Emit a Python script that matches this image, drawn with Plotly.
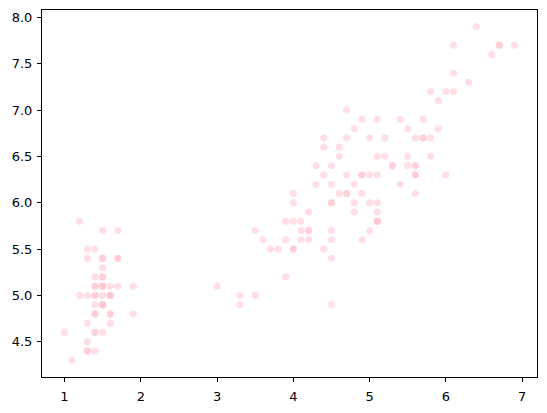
import plotly.graph_objects as go

petal_length = [1.4,1.4,1.3,1.5,1.4,1.7,1.4,1.5,1.4,1.5,1.5,1.6,1.4,1.1,1.2,1.5,1.3,1.4,1.7,1.5,
                1.7,1.5,1.0,1.7,1.9,1.6,1.6,1.5,1.4,1.6,1.6,1.5,1.5,1.4,1.5,1.2,1.3,1.5,1.3,1.5,
                1.3,1.3,1.3,1.6,1.9,1.4,1.6,1.4,1.5,1.4,
                4.7,4.5,4.9,4.0,4.6,4.5,4.7,3.3,4.6,3.9,3.5,4.2,4.0,4.7,3.6,4.4,4.5,4.1,4.5,3.9,
                4.8,4.0,4.9,4.7,4.3,4.4,4.8,5.0,4.5,3.5,3.8,3.7,3.9,5.1,4.5,4.5,4.7,4.4,4.1,4.0,
                4.4,4.6,4.0,3.3,4.2,4.2,4.2,4.3,3.0,4.1,
                6.0,5.1,5.9,5.6,5.8,6.6,4.5,6.3,5.8,6.1,5.1,5.3,5.5,5.0,5.1,5.3,5.5,6.7,6.9,5.0,
                5.7,4.9,6.7,4.9,5.7,6.0,4.8,4.9,5.6,5.8,6.1,6.4,5.6,5.1,5.6,6.1,5.6,5.5,4.8,5.4,
                5.6,5.1,5.1,5.9,5.7,5.2,5.0,5.2,5.4,5.1]
sepal_length = [5.1,4.9,4.7,4.6,5.0,5.4,4.6,5.0,4.4,4.9,5.4,4.8,4.8,4.3,5.8,5.7,5.4,5.1,5.7,5.1,
                5.4,5.1,4.6,5.1,4.8,5.0,5.0,5.2,5.2,4.7,4.8,5.4,5.2,5.5,4.9,5.0,5.5,4.9,4.4,5.1,
                5.0,4.5,4.4,5.0,5.1,4.8,5.1,4.6,5.3,5.0,
                7.0,6.4,6.9,5.5,6.5,5.7,6.3,4.9,6.6,5.2,5.0,5.9,6.0,6.1,5.6,6.7,5.6,5.8,6.2,5.6,
                5.9,6.1,6.3,6.1,6.4,6.6,6.8,6.7,6.0,5.7,5.5,5.5,5.8,6.0,5.4,6.0,6.7,6.3,5.6,5.5,
                5.5,6.1,5.8,5.0,5.6,5.7,5.7,6.2,5.1,5.7,
                6.3,5.8,7.1,6.3,6.5,7.6,4.9,7.3,6.7,7.2,6.5,6.4,6.8,5.7,5.8,6.4,6.5,7.7,7.7,6.0,
                6.9,5.6,7.7,6.3,6.7,7.2,6.2,6.1,6.4,7.2,7.4,7.9,6.4,6.3,6.1,7.7,6.3,6.4,6.0,6.9,
                6.7,6.9,5.8,6.8,6.7,6.7,6.3,6.5,6.2,5.9]

x_ticks = [1, 2, 3, 4, 5, 6, 7]
y_ticks = [4.5, 5.0, 5.5, 6.0, 6.5, 7.0, 7.5, 8.0]
y_tick_labels = ["4.5", "5.0", "5.5", "6.0", "6.5", "7.0", "7.5", "8.0"]

fig = go.Figure(go.Scatter(
    x=petal_length, y=sepal_length, mode="markers",
    marker=dict(color="pink", opacity=0.5, size=6.5,
                line=dict(color="pink", width=0.8)),
))

axis_common = dict(showgrid=False, zeroline=False, showline=True, linecolor="black",
                   linewidth=1, mirror=True, ticks="outside", ticklen=4, tickwidth=1,
                   tickcolor="black", tickfont=dict(family="DejaVu Sans", size=13, color="black"))

xmin, xmax = min(petal_length), max(petal_length)
ymin, ymax = min(sepal_length), max(sepal_length)
xp = (xmax - xmin) * 0.05
yp = (ymax - ymin) * 0.05

fig.update_xaxes(range=[xmin - xp, xmax + xp], tickvals=x_ticks, ticklabelstandoff=3, **axis_common)
fig.update_yaxes(range=[ymin - yp, ymax + yp], tickvals=y_ticks, ticktext=y_tick_labels,
                 ticklabelstandoff=2, **axis_common)

fig.update_layout(
    width=547, height=413,
    margin=dict(l=42, r=9, t=10, b=34),
    paper_bgcolor="white", plot_bgcolor="white",
    showlegend=False,
    font=dict(family="DejaVu Sans", size=13, color="black"),
)

fig.write_html("out.html", config={"displayModeBar": False},
               post_script="document.body.style.margin='0';")
